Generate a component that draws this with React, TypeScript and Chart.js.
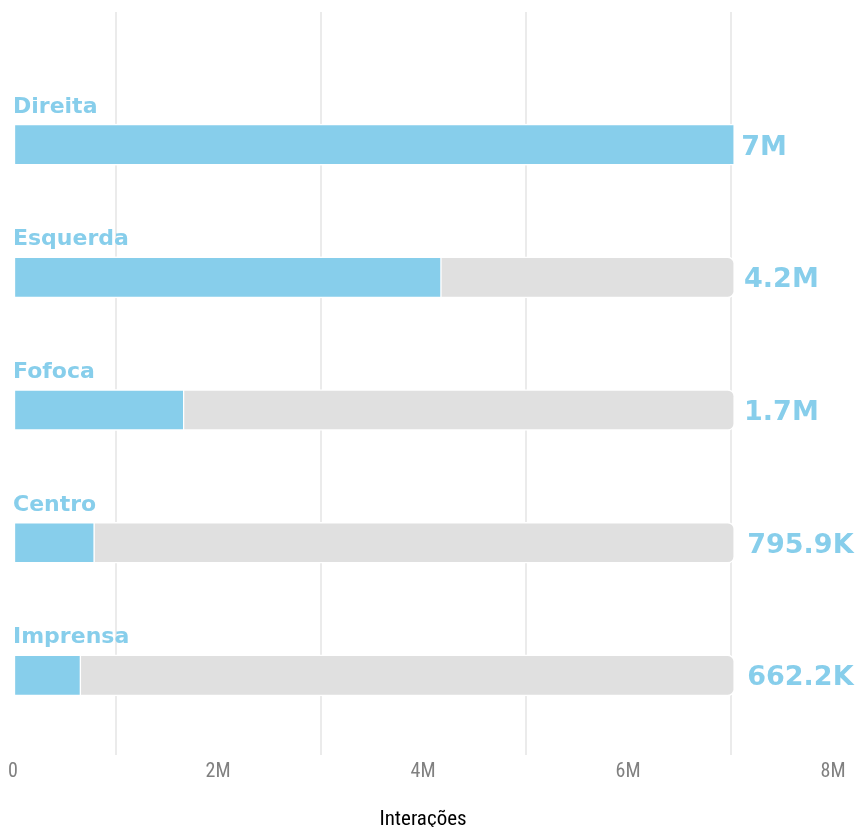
import React, { useEffect, useRef } from "react";
import { Chart, registerables } from "chart.js";

Chart.register(...registerables);

const categories = ["Direita", "Esquerda", "Fofoca", "Centro", "Imprensa"];
const interactions = [7040000, 4180000, 1670000, 795900, 662200];
const valueLabels = ["7M", "4.2M", "1.7M", "795.9K", "662.2K"];
const tickValues = [0, 2000000, 4000000, 6000000, 8000000];
const tickLabels = ["0", "2M", "4M", "6M", "8M"];
const axisTitle = "Interações";

const BLUE = "#87CEEB";
const GRAY = "#E0E0E0";
const COND = '"Roboto Condensed", "Liberation Sans Narrow", "DejaVu Sans Condensed", sans-serif';

export default function App() {
  const ref = useRef<HTMLCanvasElement | null>(null);

  useEffect(() => {
    if (!ref.current) return;
    const maxVal = Math.max(...interactions);

    const labelPlugin = {
      id: "labelPlugin",
      afterDatasetsDraw(chart: any) {
        const ctx = chart.ctx;
        const area = chart.chartArea;
        const fg = chart.getDatasetMeta(0).data;
        const bg = chart.getDatasetMeta(1).data;
        ctx.save();
        ctx.fillStyle = BLUE;
        ctx.textAlign = "left";
        ctx.textBaseline = "alphabetic";
        for (let i = 0; i < categories.length; i++) {
          const el = fg[i];
          const cy = el.y;
          ctx.font = 'bold 22px "DejaVu Sans", sans-serif';
          ctx.fillText(categories[i], area.left, cy - 32);
          ctx.font = 'bold 27px "DejaVu Sans", sans-serif';
          const w = ctx.measureText(valueLabels[i]).width;
          ctx.fillText(valueLabels[i], bg[i].x + 2 + 0.1 * w, cy + 10);
        }
        ctx.fillStyle = "#000000";
        ctx.font = `21px ${COND}`;
        ctx.textAlign = "center";
        ctx.textBaseline = "middle";
        ctx.fillText(axisTitle, (area.left + area.right) / 2, 820);
        ctx.restore();
      },
    };

    const chart = new Chart(ref.current, {
      type: "bar",
      data: {
        datasets: [
          {
            label: "Interações",
            data: interactions.map((v, i) => ({ x: v, y: i })),
            backgroundColor: BLUE,
            borderColor: "#ffffff",
            borderWidth: 1.5,
            borderSkipped: false,
            barThickness: 41,
            grouped: false,
          },
          {
            label: "Total",
            data: interactions.map((_, i) => ({ x: maxVal, y: i })),
            backgroundColor: GRAY,
            borderColor: "#ffffff",
            borderWidth: 1.5,
            borderSkipped: false,
            borderRadius: { topLeft: 0, bottomLeft: 0, topRight: 7, bottomRight: 7 },
            barThickness: 41,
            grouped: false,
          },
        ],
      },
      options: {
        indexAxis: "y",
        animation: false,
        responsive: false,
        maintainAspectRatio: false,
        layout: { padding: { left: 13, right: 24, top: 12, bottom: 38 } },
        plugins: {
          legend: { display: false },
          tooltip: { enabled: false },
          title: { display: false },
        },
        scales: {
          y: {
            type: "linear",
            display: false,
            reverse: true,
            offset: false,
            min: -1,
            max: 4.6,
          },
          x: {
            type: "linear",
            min: 0,
            max: 8000000,
            offset: false,
            border: { display: false },
            grid: {
              drawTicks: false,
              lineWidth: 2,
              color: (c: any) => {
                const v = c.tick ? c.tick.value : 0;
                return tickValues.includes(v) ? "rgba(0,0,0,0)" : "#EBEBEB";
              },
            },
            ticks: {
              stepSize: 1000000,
              autoSkip: false,
              maxRotation: 0,
              padding: 7,
              color: "#808080",
              font: { family: COND, size: 20, lineHeight: 1 },
              callback: (v: any) => {
                const idx = tickValues.indexOf(Number(v));
                return idx >= 0 ? tickLabels[idx] : "";
              },
            },
          },
        },
      },
      plugins: [labelPlugin],
    });

    return () => chart.destroy();
  }, []);

  return (
    <div style={{ position: "absolute", left: 0, top: 0, width: 857, height: 827 }}>
      <canvas ref={ref} width={857} height={827} style={{ display: "block" }} />
    </div>
  );
}
